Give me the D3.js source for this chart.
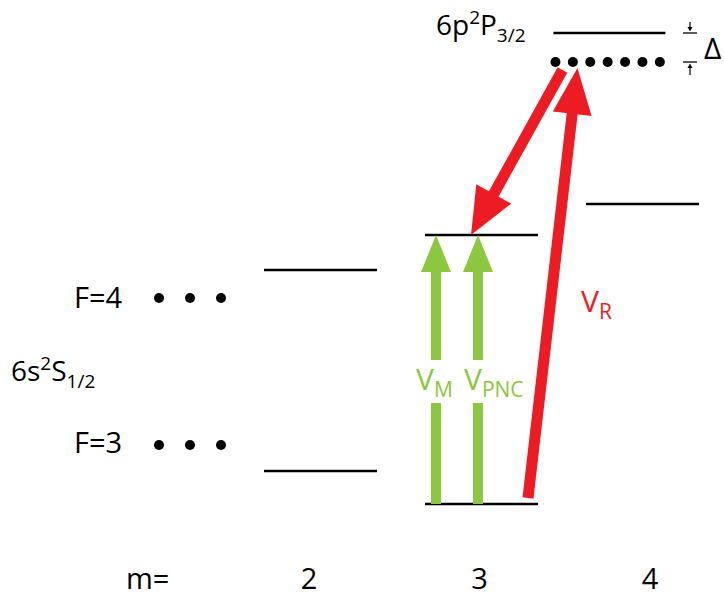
<!DOCTYPE html>
<html>
<head>
<meta charset="utf-8">
<script src="https://cdn.jsdelivr.net/npm/d3@7"></script>
<style>
  body { margin: 0; background: #fff; }
  svg text { font-family: "Open Sans", "Noto Sans", sans-serif; }
</style>
</head>
<body>
<div class="levelDiagram"></div>
<script>
// magnetic sublevels shown
var mValues = [2, 3, 4];
// energies in arbitrary units (Zeeman-shifted hyperfine sublevels)
var f3Levels = [{ m: 2, E: 69 }, { m: 3, E: 36 }];
var f4Levels = [{ m: 2, E: 270 }, { m: 3, E: 305 }, { m: 4, E: 336 }];
var pLevel = { E: 507 };
var virtualLevel = { E: 478, dots: 7 };
var groundDots = 3;

var green = "#8dc63f", red = "#ed1c24";

var width = 724, height = 597;
var fs = 28, fsSmall = 19;

var canvas = d3.select(".levelDiagram")
  .append("svg")
  .attr("width", width)
  .attr("height", height);

var x = d3.scaleLinear().domain([2, 4]).range([320, 642]);
var xLabel = d3.scaleLinear().domain([2, 4]).range([309, 650]);
var y = d3.scaleLinear().domain([0, 480]).range([540, 60]);
var halfW = 56;

// level lines
var levels = f3Levels.concat(f4Levels);
canvas.selectAll("line.level")
  .data(levels)
  .enter()
  .append("line")
  .attr("class", "level")
  .attr("x1", function(d) { return x(d.m) - halfW; })
  .attr("x2", function(d) { return x(d.m) + halfW + 1; })
  .attr("y1", function(d) { return y(d.E); })
  .attr("y2", function(d) { return y(d.E); })
  .attr("stroke", "#000")
  .attr("stroke-width", 2.5);

// excited state line
var pX = x(3.45);
canvas.append("line")
  .attr("x1", pX).attr("x2", pX + 112)
  .attr("y1", y(pLevel.E)).attr("y2", y(pLevel.E))
  .attr("stroke", "#000").attr("stroke-width", 2.5);

// virtual level dots
canvas.selectAll("circle.vdot")
  .data(d3.range(virtualLevel.dots))
  .enter()
  .append("circle")
  .attr("class", "vdot")
  .attr("cx", function(i) { return pX + 2 + i * 17.4; })
  .attr("cy", y(virtualLevel.E))
  .attr("r", 5)
  .attr("fill", "#000");

// ground dots for F=4 / F=3
[f4Levels, f3Levels].forEach(function(set, k) {
  var yy = k === 0 ? 298 : 445;
  canvas.selectAll("circle.g" + k)
    .data(d3.range(groundDots))
    .enter()
    .append("circle")
    .attr("cx", function(i) { return 159 + i * 31; })
    .attr("cy", yy)
    .attr("r", 5)
    .attr("fill", "#000");
});

// labels
canvas.append("text").attr("x", 74).attr("y", 308).attr("font-size", fs + 1).text("F=4");
canvas.append("text").attr("x", 74).attr("y", 453).attr("font-size", fs + 1).text("F=3");

var gs = canvas.append("text").attr("x", 11).attr("y", 381).attr("font-size", fs);
gs.append("tspan").text("6s");
gs.append("tspan").attr("font-size", fsSmall).attr("dy", -11).text("2");
gs.append("tspan").attr("dy", 11).text("S");
gs.append("tspan").attr("font-size", fsSmall).attr("dy", 7).text("1/2");

var ps = canvas.append("text").attr("x", 436).attr("y", 35).attr("font-size", fs);
ps.append("tspan").text("6p");
ps.append("tspan").attr("font-size", fsSmall).attr("dy", -11).text("2");
ps.append("tspan").attr("dy", 11).text("P");
ps.append("tspan").attr("font-size", fsSmall).attr("dy", 7).text("3/2");

// m axis labels
canvas.append("text").attr("x", 126).attr("y", 589).attr("font-size", fs + 1).text("m=");
canvas.selectAll("text.m")
  .data(mValues)
  .enter()
  .append("text")
  .attr("class", "m")
  .attr("x", function(d) { return xLabel(d); })
  .attr("y", 589)
  .attr("text-anchor", "middle")
  .attr("font-size", fs + 1)
  .text(function(d) { return d; });

// arrow polygon: shaft from (x1,y1) to head tip (x2,y2)
function arrow(x1, y1, x2, y2, sw, hl, hw, color, gap) {
  var dx = x2 - x1, dy = y2 - y1, L = Math.sqrt(dx * dx + dy * dy);
  var ux = dx / L, uy = dy / L, nx = -uy, ny = ux;
  var bx = x2 - ux * hl, by = y2 - uy * hl;
  var g = canvas.append("g");
  g.append("polygon")
    .attr("points", [[x2, y2], [bx + nx * hw / 2, by + ny * hw / 2], [bx - nx * hw / 2, by - ny * hw / 2]].join(" "))
    .attr("fill", color);
  var segs = gap ? [[0, gap[0]], [gap[1], L - hl + 1]] : [[0, L - hl + 1]];
  segs.forEach(function(s) {
    g.append("line")
      .attr("x1", x1 + ux * s[0]).attr("y1", y1 + uy * s[0])
      .attr("x2", x1 + ux * s[1]).attr("y2", y1 + uy * s[1])
      .attr("stroke", color).attr("stroke-width", sw);
  });
}

var yLow = y(f3Levels[1].E), yHigh = y(f4Levels[1].E);
arrow(x(3) - 45, yLow, x(3) - 45, yHigh, 10, 37, 30, green, [yLow - 403, yLow - 360]);
arrow(x(3) - 3, yLow, x(3) - 3, yHigh, 10, 37, 30, green, [yLow - 403, yLow - 360]);

// red Raman arrows
arrow(x(3) + 47, yLow - 6, pX + 24, y(virtualLevel.E) + 6, 11, 46, 39, red);
arrow(pX + 9, y(virtualLevel.E) + 8, x(3) - 10, yHigh, 11, 47, 40, red);

var vm = canvas.append("text").attr("x", 416).attr("y", 390).attr("font-size", fs + 2).attr("fill", green);
vm.append("tspan").text("V");
vm.append("tspan").attr("font-size", fsSmall + 2).attr("dy", 7).text("M");
var vp = canvas.append("text").attr("x", 464).attr("y", 390).attr("font-size", fs + 2).attr("fill", green);
vp.append("tspan").text("V");
vp.append("tspan").attr("font-size", fsSmall + 2).attr("dy", 7).text("PNC");
var vr = canvas.append("text").attr("x", 581).attr("y", 312).attr("font-size", fs + 2).attr("fill", red);
vr.append("tspan").text("V");
vr.append("tspan").attr("font-size", fsSmall + 2).attr("dy", 7).text("R");

// Delta marker
var dX = 690, yTop = y(pLevel.E), yBot = y(virtualLevel.E);
[[yTop, -11], [yBot, 13]].forEach(function(p) {
  canvas.append("line").attr("x1", dX - 7).attr("x2", dX + 7).attr("y1", p[0]).attr("y2", p[0])
    .attr("stroke", "#000").attr("stroke-width", 1.3);
  canvas.append("line").attr("x1", dX).attr("x2", dX).attr("y1", p[0] + p[1]).attr("y2", p[0] + (p[1] > 0 ? 4 : -4))
    .attr("stroke", "#000").attr("stroke-width", 1.2);
  var s = p[1] > 0 ? 1 : -1;
  canvas.append("polygon")
    .attr("points", [[dX, p[0] + s * 1.5], [dX - 2.5, p[0] + s * 6], [dX + 2.5, p[0] + s * 6]].join(" "))
    .attr("fill", "#000");
});
canvas.append("text").attr("x", 704).attr("y", 59).attr("font-size", fs + 2).text("Δ");
</script>
</body>
</html>
